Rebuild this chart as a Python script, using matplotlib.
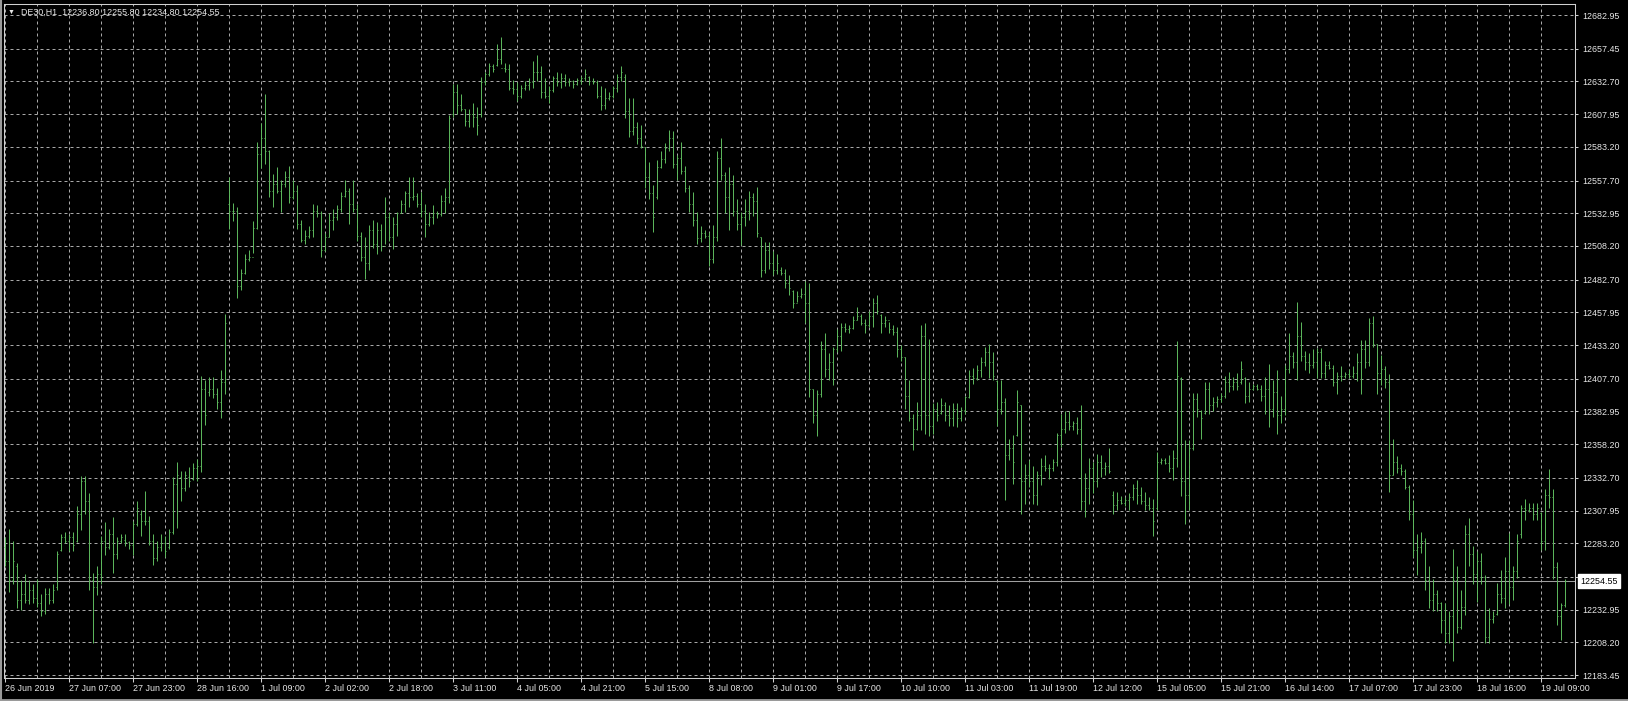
import matplotlib
matplotlib.use("Agg")
import matplotlib.pyplot as plt
from matplotlib.lines import Line2D
from matplotlib import transforms
import numpy as np

plt.rcParams['font.family'] = ['Liberation Sans', 'DejaVu Sans']

# DE30 hourly bars, 26 Jun - 19 Jul 2019
opens = [
    12280, 12270, 12255, 12266, 12240, 12245, 12240, 12248, 12242, 12238,
    12232, 12245, 12240, 12250, 12278, 12288, 12285, 12288, 12285, 12305,
    12330, 12315, 12255, 12250, 12260, 12285, 12280, 12290, 12275, 12285,
    12286, 12284, 12282, 12298, 12305, 12300, 12300, 12285, 12272, 12280,
    12283, 12280, 12292, 12328, 12333, 12325, 12333, 12332, 12340, 12342,
    12400, 12398, 12400, 12396, 12390, 12405, 12540, 12535, 12535, 12478,
    12488, 12498, 12500, 12522, 12578, 12590, 12580, 12550, 12555, 12550,
    12555, 12560, 12545, 12550, 12525, 12513, 12516, 12520, 12535, 12533,
    12505, 12515, 12528, 12530, 12536, 12546, 12550, 12540, 12536, 12516,
    12500, 12495, 12520, 12510, 12520, 12508, 12530, 12515, 12525, 12533,
    12540, 12548, 12545, 12546, 12540, 12535, 12525, 12530, 12533, 12532,
    12542, 12545, 12608, 12625, 12615, 12612, 12603, 12608, 12606, 12608,
    12632, 12638, 12644, 12645, 12650, 12643, 12642, 12628, 12627, 12622,
    12628, 12630, 12632, 12640, 12640, 12625, 12622, 12626, 12635, 12632,
    12635, 12632, 12633, 12631, 12634, 12635, 12636, 12633, 12632, 12622,
    12615, 12620, 12622, 12628, 12636, 12636, 12610, 12595, 12598, 12590,
    12583, 12560, 12548, 12545, 12568, 12574, 12582, 12590, 12570, 12575,
    12565, 12552, 12540, 12528, 12514, 12518, 12516, 12498, 12515, 12575,
    12562, 12545, 12555, 12535, 12525, 12530, 12535, 12545, 12542, 12515,
    12490, 12505, 12495, 12490, 12490, 12488, 12480, 12474, 12465, 12470,
    12472, 12465, 12400, 12380, 12396, 12430, 12415, 12420, 12430, 12440,
    12447, 12445, 12446, 12452, 12455, 12450, 12448, 12455, 12465, 12456,
    12450, 12452, 12445, 12443, 12430, 12424, 12395, 12378, 12370, 12380,
    12440, 12380, 12372, 12385, 12382, 12388, 12380, 12378, 12385, 12378,
    12384, 12394, 12410, 12408, 12414, 12420, 12428, 12420, 12406, 12385,
    12390, 12350, 12355, 12365, 12388, 12330, 12335, 12330, 12320, 12335,
    12342, 12340, 12340, 12345, 12365, 12370, 12375, 12372, 12374, 12370,
    12315, 12325, 12340, 12330, 12345, 12340, 12342, 12320, 12312, 12316,
    12314, 12316, 12318, 12325, 12320, 12315, 12312, 12310, 12310, 12345,
    12346, 12344, 12340, 12348, 12408, 12330, 12320, 12355, 12392, 12383,
    12382, 12400, 12388, 12390, 12392, 12395, 12405, 12402, 12405, 12405,
    12408, 12395, 12400, 12402, 12400, 12395, 12400, 12385, 12398, 12380,
    12385, 12415, 12425, 12420, 12440, 12425, 12420, 12418, 12420, 12428,
    12412, 12418, 12416, 12405, 12410, 12410, 12411, 12410, 12412, 12420,
    12430, 12420, 12450, 12434, 12412, 12415, 12405, 12335, 12345, 12340,
    12338, 12326, 12305, 12278, 12280, 12285, 12255, 12240, 12245, 12238,
    12225, 12215, 12228, 12255, 12220, 12235, 12290, 12275, 12260, 12270,
    12258, 12212, 12226, 12230, 12245, 12242, 12262, 12250, 12262, 12290,
    12310, 12308, 12310, 12305, 12306, 12285, 12320, 12318, 12265, 12228,
    12236.80,
]
highs = [
    12288, 12294, 12285, 12268, 12255, 12260, 12255, 12252, 12256, 12245,
    12249, 12249, 12252, 12277, 12290, 12292, 12290, 12292, 12311, 12334,
    12334, 12321, 12261, 12266, 12289, 12299, 12294, 12303, 12288, 12290,
    12290, 12285, 12300, 12315, 12308, 12323, 12304, 12290, 12285, 12290,
    12289, 12294, 12333, 12345, 12338, 12338, 12341, 12344, 12347, 12410,
    12407, 12409, 12409, 12401, 12414, 12457, 12560, 12541, 12538, 12491,
    12502, 12505, 12527, 12587, 12601, 12623, 12581, 12563, 12568, 12558,
    12565, 12569, 12558, 12554, 12528, 12520, 12523, 12540, 12539, 12535,
    12518, 12533, 12536, 12539, 12549, 12558, 12552, 12558, 12540, 12519,
    12515, 12524, 12528, 12526, 12525, 12545, 12534, 12530, 12534, 12543,
    12550, 12560, 12560, 12548, 12549, 12540, 12534, 12539, 12535, 12547,
    12552, 12607, 12631, 12631, 12623, 12612, 12612, 12616, 12613, 12636,
    12640, 12647, 12646, 12661, 12666, 12647, 12646, 12634, 12632, 12630,
    12633, 12635, 12648, 12653, 12644, 12635, 12629, 12637, 12640, 12639,
    12638, 12635, 12634, 12635, 12637, 12642, 12637, 12635, 12634, 12629,
    12628, 12625, 12629, 12638, 12644, 12638, 12620, 12620, 12602, 12600,
    12583, 12572, 12554, 12573, 12580, 12586, 12596, 12595, 12577, 12587,
    12569, 12554, 12549, 12534, 12523, 12520, 12519, 12524, 12580, 12590,
    12564, 12568, 12562, 12544, 12534, 12544, 12550, 12548, 12553, 12515,
    12511, 12511, 12504, 12502, 12492, 12491, 12486, 12475, 12474, 12476,
    12482, 12480, 12400, 12399, 12436, 12442, 12427, 12432, 12445, 12450,
    12450, 12448, 12455, 12462, 12457, 12453, 12459, 12469, 12471, 12457,
    12455, 12451, 12448, 12447, 12433, 12424, 12407, 12381, 12390, 12448,
    12450, 12438, 12389, 12390, 12393, 12390, 12388, 12389, 12389, 12386,
    12395, 12414, 12416, 12418, 12424, 12432, 12434, 12428, 12407, 12407,
    12393, 12362, 12365, 12399, 12388, 12343, 12346, 12342, 12338, 12348,
    12350, 12343, 12347, 12367, 12381, 12383, 12383, 12376, 12379, 12388,
    12336, 12348, 12345, 12351, 12350, 12345, 12355, 12323, 12322, 12319,
    12318, 12321, 12328, 12331, 12326, 12322, 12318, 12317, 12352, 12348,
    12348, 12350, 12354, 12436, 12409, 12361, 12361, 12397, 12397, 12384,
    12405, 12405, 12394, 12395, 12397, 12410, 12413, 12409, 12412, 12421,
    12409, 12405, 12404, 12404, 12403, 12409, 12419, 12407, 12414, 12395,
    12418, 12442, 12428, 12466, 12451, 12429, 12427, 12430, 12431, 12431,
    12421, 12421, 12418, 12413, 12417, 12413, 12415, 12417, 12427, 12437,
    12437, 12454, 12455, 12434, 12426, 12417, 12411, 12362, 12349, 12343,
    12339, 12327, 12316, 12290, 12292, 12287, 12266, 12256, 12248, 12239,
    12238, 12232, 12279, 12266, 12248, 12297, 12302, 12281, 12277, 12276,
    12259, 12234, 12232, 12253, 12263, 12273, 12291, 12266, 12290, 12312,
    12317, 12314, 12314, 12314, 12307, 12324, 12339, 12324, 12269, 12238,
    12255.80,
]
lows = [
    12266, 12246, 12252, 12234, 12233, 12238, 12237, 12238, 12235, 12228,
    12230, 12237, 12238, 12248, 12277, 12283, 12277, 12277, 12284, 12293,
    12305, 12248, 12208, 12244, 12252, 12274, 12279, 12261, 12271, 12283,
    12281, 12279, 12274, 12296, 12289, 12297, 12282, 12267, 12270, 12277,
    12273, 12279, 12290, 12295, 12315, 12323, 12326, 12331, 12330, 12337,
    12373, 12395, 12393, 12385, 12378, 12396, 12521, 12527, 12469, 12475,
    12487, 12497, 12503, 12521, 12567, 12570, 12545, 12538, 12548, 12534,
    12553, 12541, 12544, 12521, 12511, 12510, 12514, 12515, 12530, 12500,
    12504, 12515, 12520, 12528, 12534, 12545, 12525, 12534, 12512, 12497,
    12483, 12490, 12507, 12502, 12504, 12510, 12512, 12506, 12516, 12533,
    12534, 12538, 12543, 12538, 12530, 12515, 12523, 12525, 12529, 12531,
    12533, 12541, 12606, 12608, 12610, 12599, 12598, 12598, 12592, 12606,
    12630, 12637, 12640, 12644, 12646, 12640, 12626, 12623, 12618, 12620,
    12626, 12626, 12628, 12633, 12620, 12620, 12616, 12625, 12629, 12628,
    12629, 12629, 12628, 12630, 12631, 12633, 12630, 12631, 12620, 12611,
    12612, 12619, 12620, 12625, 12633, 12605, 12591, 12592, 12585, 12582,
    12552, 12544, 12519, 12544, 12567, 12571, 12580, 12567, 12558, 12563,
    12549, 12534, 12523, 12510, 12511, 12514, 12493, 12495, 12512, 12558,
    12533, 12520, 12531, 12520, 12509, 12523, 12528, 12531, 12515, 12485,
    12488, 12491, 12486, 12487, 12486, 12476, 12471, 12461, 12466, 12469,
    12450, 12394, 12374, 12364, 12394, 12409, 12407, 12403, 12428, 12429,
    12443, 12442, 12445, 12452, 12448, 12442, 12447, 12447, 12457, 12442,
    12447, 12442, 12441, 12424, 12421, 12385, 12376, 12354, 12369, 12369,
    12366, 12364, 12366, 12376, 12381, 12376, 12372, 12372, 12371, 12376,
    12381, 12393, 12404, 12407, 12409, 12417, 12408, 12407, 12372, 12381,
    12316, 12346, 12328, 12364, 12305, 12313, 12326, 12313, 12312, 12327,
    12338, 12332, 12338, 12342, 12356, 12367, 12369, 12369, 12366, 12308,
    12303, 12313, 12321, 12326, 12333, 12335, 12336, 12305, 12308, 12313,
    12311, 12308, 12316, 12313, 12313, 12308, 12308, 12289, 12308, 12343,
    12343, 12337, 12331, 12341, 12319, 12298, 12308, 12354, 12379, 12362,
    12381, 12381, 12383, 12386, 12390, 12393, 12398, 12399, 12399, 12404,
    12389, 12390, 12399, 12399, 12391, 12381, 12371, 12379, 12366, 12374,
    12380, 12412, 12416, 12407, 12421, 12414, 12412, 12416, 12408, 12408,
    12408, 12415, 12402, 12396, 12406, 12408, 12408, 12408, 12406, 12396,
    12416, 12417, 12432, 12396, 12403, 12401, 12322, 12335, 12336, 12335,
    12324, 12301, 12273, 12259, 12276, 12248, 12234, 12232, 12232, 12215,
    12208, 12208, 12194, 12215, 12218, 12229, 12266, 12252, 12239, 12252,
    12208, 12208, 12223, 12229, 12238, 12234, 12237, 12240, 12257, 12287,
    12301, 12307, 12301, 12301, 12278, 12278, 12310, 12256, 12221, 12210,
    12234.80,
]
closes = [
    12270, 12255, 12270, 12240, 12245, 12240, 12248, 12242, 12238, 12232,
    12245, 12240, 12248, 12275, 12288, 12285, 12288, 12282, 12305, 12330,
    12315, 12255, 12250, 12260, 12285, 12280, 12290, 12275, 12285, 12288,
    12284, 12282, 12298, 12310, 12300, 12300, 12285, 12272, 12280, 12283,
    12277, 12292, 12328, 12335, 12325, 12335, 12330, 12340, 12342, 12400,
    12380, 12400, 12396, 12390, 12405, 12450, 12535, 12535, 12478, 12488,
    12498, 12500, 12522, 12578, 12590, 12580, 12550, 12555, 12550, 12555,
    12560, 12545, 12550, 12525, 12513, 12516, 12520, 12535, 12533, 12505,
    12515, 12528, 12530, 12536, 12546, 12550, 12540, 12536, 12516, 12500,
    12495, 12520, 12510, 12520, 12508, 12530, 12515, 12525, 12533, 12540,
    12548, 12545, 12546, 12540, 12535, 12525, 12530, 12533, 12532, 12542,
    12545, 12605, 12625, 12615, 12612, 12603, 12608, 12606, 12600, 12632,
    12638, 12644, 12642, 12650, 12643, 12642, 12628, 12627, 12622, 12628,
    12630, 12632, 12640, 12640, 12625, 12622, 12626, 12635, 12632, 12635,
    12632, 12633, 12631, 12634, 12635, 12638, 12633, 12632, 12622, 12615,
    12620, 12622, 12628, 12636, 12640, 12610, 12595, 12598, 12590, 12584,
    12560, 12548, 12530, 12568, 12574, 12582, 12590, 12570, 12575, 12565,
    12552, 12540, 12528, 12514, 12518, 12516, 12498, 12515, 12575, 12562,
    12545, 12555, 12535, 12525, 12530, 12535, 12545, 12542, 12518, 12490,
    12505, 12495, 12490, 12495, 12488, 12480, 12476, 12465, 12470, 12472,
    12465, 12400, 12380, 12396, 12430, 12415, 12420, 12430, 12440, 12447,
    12445, 12446, 12452, 12455, 12450, 12448, 12455, 12465, 12459, 12450,
    12452, 12445, 12443, 12430, 12424, 12395, 12378, 12370, 12380, 12440,
    12380, 12372, 12385, 12380, 12388, 12380, 12378, 12385, 12378, 12384,
    12394, 12410, 12408, 12414, 12420, 12428, 12420, 12410, 12385, 12390,
    12350, 12355, 12345, 12390, 12330, 12335, 12330, 12320, 12335, 12342,
    12340, 12340, 12345, 12365, 12370, 12375, 12372, 12374, 12370, 12315,
    12325, 12340, 12330, 12345, 12340, 12342, 12338, 12312, 12316, 12314,
    12316, 12318, 12325, 12320, 12315, 12312, 12310, 12300, 12345, 12346,
    12344, 12340, 12348, 12410, 12330, 12320, 12355, 12392, 12385, 12378,
    12400, 12388, 12390, 12392, 12395, 12405, 12402, 12405, 12402, 12415,
    12395, 12400, 12402, 12400, 12395, 12400, 12385, 12398, 12380, 12385,
    12415, 12425, 12420, 12440, 12425, 12420, 12418, 12420, 12428, 12412,
    12418, 12416, 12405, 12410, 12410, 12411, 12410, 12412, 12420, 12430,
    12420, 12450, 12434, 12412, 12415, 12405, 12335, 12345, 12340, 12338,
    12326, 12305, 12278, 12280, 12285, 12255, 12240, 12245, 12238, 12225,
    12215, 12228, 12255, 12220, 12235, 12290, 12275, 12260, 12270, 12258,
    12212, 12226, 12228, 12245, 12242, 12262, 12250, 12262, 12285, 12310,
    12308, 12310, 12305, 12310, 12285, 12320, 12318, 12265, 12228, 12236.80,
    12254.55,
]

symbol = "DE30,H1"
price_labels = ['12682.95', '12657.45', '12632.70', '12607.95', '12583.20',
                '12557.70', '12532.95', '12508.20', '12482.70', '12457.95',
                '12433.20', '12407.70', '12382.95', '12358.20', '12332.70',
                '12307.95', '12283.20', '12257.70', '12232.95', '12208.20',
                '12183.45']
time_labels = ['26 Jun 2019', '27 Jun 07:00', '27 Jun 23:00', '28 Jun 16:00',
               '1 Jul 09:00', '2 Jul 02:00', '2 Jul 18:00', '3 Jul 11:00',
               '4 Jul 05:00', '4 Jul 21:00', '5 Jul 15:00', '8 Jul 08:00',
               '9 Jul 01:00', '9 Jul 17:00', '10 Jul 10:00', '11 Jul 03:00',
               '11 Jul 19:00', '12 Jul 12:00', '15 Jul 05:00', '15 Jul 21:00',
               '16 Jul 14:00', '17 Jul 07:00', '17 Jul 23:00', '18 Jul 16:00',
               '19 Jul 09:00']
label_every = 16  # bars between time labels

BG = 'black'
BAR = '#5dba5d'
GRID = '#a8a8a8'
TXT = '#e8e8e8'
FRAME = '#d0d0d0'

W, H = 1628, 701
fig = plt.figure(figsize=(W / 100, H / 100), dpi=100, facecolor=BG)
ax = fig.add_axes([4 / W, 23 / H, 1571 / W, 674 / H])
ax.set_facecolor(BG)

idx = np.arange(len(closes))
ax.vlines(idx, lows, highs, color=BAR, lw=0.7, zorder=3)
ax.hlines(opens, idx - 0.25, idx, color=BAR, lw=0.7, zorder=3)
ax.hlines(closes, idx, idx + 0.25, color=BAR, lw=0.7, zorder=3)

ax.set_xlim(-0.25, 392.5)
ax.set_ylim(12181.2, 12691.3)

# time axis
ax.set_xticks(np.arange(len(time_labels)) * label_every)
ax.set_xticklabels(time_labels)
for lbl in ax.get_xticklabels():
    lbl.set_horizontalalignment('left')
ax.set_xticks(np.arange(label_every // 2, len(closes), label_every), minor=True)
ax.tick_params(axis='x', which='major', direction='out', length=3, width=0.75,
               color=FRAME, labelcolor=TXT, labelsize=6.4, pad=1.5)
ax.tick_params(axis='x', which='minor', length=0)

# price axis
ax.yaxis.tick_right()
ax.set_yticks([float(p) for p in price_labels])
ax.set_yticklabels(price_labels)
ax.tick_params(axis='y', direction='out', length=2.5, width=0.75,
               color=FRAME, labelcolor=TXT, labelsize=6.4, pad=2.5)

ax.grid(True, which='both', color=GRID, lw=0.72, linestyle=(0, (3, 3)))
ax.set_axisbelow(True)

for sp in ax.spines.values():
    sp.set_color(FRAME)
    sp.set_linewidth(0.75)

# current price line and its tag
last = closes[-1]
ax.axhline(last, color='#a0a0a0', lw=0.75, zorder=2)
trans = transforms.blended_transform_factory(ax.transAxes, ax.transData)
ax.text(1.0 + 5 / 1571, last, f"{last:.2f}", transform=trans, ha='left', va='center',
        fontsize=6.4, color='black', clip_on=False, zorder=10,
        bbox=dict(facecolor='white', edgecolor='white', pad=1.6))

# header line
fig.text(8 / W, 1 - 12 / H, '\u25bc', color=TXT, fontsize=5, va='center', ha='left')
fig.text(21 / W, 1 - 12 / H,
         f"{symbol}  {opens[-1]:.2f} {highs[-1]:.2f} {lows[-1]:.2f} {closes[-1]:.2f}",
         color=TXT, fontsize=6.4, va='center', ha='left')

# window border
fig.add_artist(Line2D([0.5 / W, 0.5 / W], [0, 1], transform=fig.transFigure, color='#9a9a9a', lw=1.5))
fig.add_artist(Line2D([0, 1], [1.5 / H, 1.5 / H], transform=fig.transFigure, color='#9a9a9a', lw=2))

fig.savefig('out.png', dpi=100, facecolor=BG)
